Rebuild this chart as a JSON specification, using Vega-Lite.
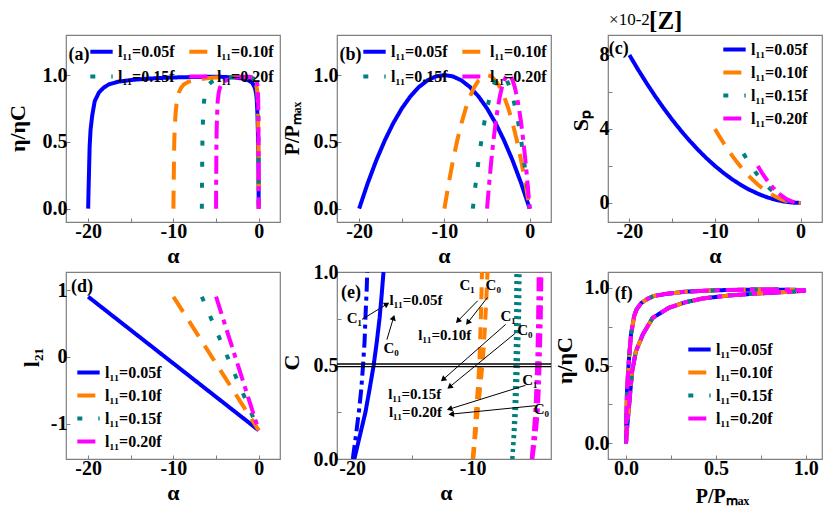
{
"$schema":"https://vega.github.io/schema/vega-lite/v6.json",
"background":"white",
"padding":{"left":5,"top":7,"right":5,"bottom":5},
"bounds":"flush",
"columns":3,
"spacing":{"row":50,"column":57},
"resolve":{"scale":{"color":"independent","strokeDash":"independent"},"legend":{"color":"independent","strokeDash":"independent"}},
"datasets":{
"u":[
{"s":"0.05","a":0,"p":0,"q":0,"l":-1.1},{"s":"0.05","a":-1,"p":0.19,"q":0.02,"l":-1.0},{"s":"0.05","a":-2,"p":0.36,"q":0.08,"l":-0.9},{"s":"0.05","a":-3,"p":0.51,"q":0.18,"l":-0.8},{"s":"0.05","a":-4,"p":0.64,"q":0.32,"l":-0.7},{"s":"0.05","a":-5,"p":0.75,"q":0.5,"l":-0.6},{"s":"0.05","a":-6,"p":0.84,"q":0.72,"l":-0.5},{"s":"0.05","a":-7,"p":0.91,"q":0.98,"l":-0.4},{"s":"0.05","a":-8,"p":0.96,"q":1.28,"l":-0.3},{"s":"0.05","a":-9,"p":0.99,"q":1.62,"l":-0.2},{"s":"0.05","a":-10,"p":1,"q":2,"l":-0.1},{"s":"0.05","a":-11,"p":0.99,"q":2.42,"l":0},{"s":"0.05","a":-12,"p":0.96,"q":2.88,"l":0.1},{"s":"0.05","a":-13,"p":0.91,"q":3.38,"l":0.2},{"s":"0.05","a":-14,"p":0.84,"q":3.92,"l":0.3},{"s":"0.05","a":-15,"p":0.75,"q":4.5,"l":0.4},{"s":"0.05","a":-16,"p":0.64,"q":5.12,"l":0.5},{"s":"0.05","a":-17,"p":0.51,"q":5.78,"l":0.6},{"s":"0.05","a":-18,"p":0.36,"q":6.48,"l":0.7},{"s":"0.05","a":-19,"p":0.19,"q":7.22,"l":0.8},{"s":"0.05","a":-20,"p":0,"q":8,"l":0.9},
{"s":"0.10","a":0,"p":0,"q":0,"l":-1.1},{"s":"0.10","a":-0.5,"p":0.19,"q":0.01,"l":-1.0},{"s":"0.10","a":-1,"p":0.36,"q":0.04,"l":-0.9},{"s":"0.10","a":-1.5,"p":0.51,"q":0.09,"l":-0.8},{"s":"0.10","a":-2,"p":0.64,"q":0.16,"l":-0.7},{"s":"0.10","a":-2.5,"p":0.75,"q":0.25,"l":-0.6},{"s":"0.10","a":-3,"p":0.84,"q":0.36,"l":-0.5},{"s":"0.10","a":-3.5,"p":0.91,"q":0.49,"l":-0.4},{"s":"0.10","a":-4,"p":0.96,"q":0.64,"l":-0.3},{"s":"0.10","a":-4.5,"p":0.99,"q":0.81,"l":-0.2},{"s":"0.10","a":-5,"p":1,"q":1,"l":-0.1},{"s":"0.10","a":-5.5,"p":0.99,"q":1.21,"l":0},{"s":"0.10","a":-6,"p":0.96,"q":1.44,"l":0.1},{"s":"0.10","a":-6.5,"p":0.91,"q":1.69,"l":0.2},{"s":"0.10","a":-7,"p":0.84,"q":1.96,"l":0.3},{"s":"0.10","a":-7.5,"p":0.75,"q":2.25,"l":0.4},{"s":"0.10","a":-8,"p":0.64,"q":2.56,"l":0.5},{"s":"0.10","a":-8.5,"p":0.51,"q":2.89,"l":0.6},{"s":"0.10","a":-9,"p":0.36,"q":3.24,"l":0.7},{"s":"0.10","a":-9.5,"p":0.19,"q":3.61,"l":0.8},{"s":"0.10","a":-10,"p":0,"q":4,"l":0.9},
{"s":"0.15","a":0,"p":0,"q":0,"l":-1.1},{"s":"0.15","a":-0.333,"p":0.19,"q":0.0067,"l":-1.0},{"s":"0.15","a":-0.667,"p":0.36,"q":0.0267,"l":-0.9},{"s":"0.15","a":-1,"p":0.51,"q":0.06,"l":-0.8},{"s":"0.15","a":-1.333,"p":0.64,"q":0.1067,"l":-0.7},{"s":"0.15","a":-1.667,"p":0.75,"q":0.1667,"l":-0.6},{"s":"0.15","a":-2,"p":0.84,"q":0.24,"l":-0.5},{"s":"0.15","a":-2.333,"p":0.91,"q":0.3267,"l":-0.4},{"s":"0.15","a":-2.667,"p":0.96,"q":0.4267,"l":-0.3},{"s":"0.15","a":-3,"p":0.99,"q":0.54,"l":-0.2},{"s":"0.15","a":-3.333,"p":1,"q":0.6667,"l":-0.1},{"s":"0.15","a":-3.667,"p":0.99,"q":0.8067,"l":0},{"s":"0.15","a":-4,"p":0.96,"q":0.96,"l":0.1},{"s":"0.15","a":-4.333,"p":0.91,"q":1.1267,"l":0.2},{"s":"0.15","a":-4.667,"p":0.84,"q":1.3067,"l":0.3},{"s":"0.15","a":-5,"p":0.75,"q":1.5,"l":0.4},{"s":"0.15","a":-5.333,"p":0.64,"q":1.7067,"l":0.5},{"s":"0.15","a":-5.667,"p":0.51,"q":1.9267,"l":0.6},{"s":"0.15","a":-6,"p":0.36,"q":2.16,"l":0.7},{"s":"0.15","a":-6.333,"p":0.19,"q":2.4067,"l":0.8},{"s":"0.15","a":-6.667,"p":0,"q":2.6667,"l":0.9},
{"s":"0.20","a":0,"p":0,"q":0,"l":-1.1},{"s":"0.20","a":-0.25,"p":0.19,"q":0.005,"l":-1.0},{"s":"0.20","a":-0.5,"p":0.36,"q":0.02,"l":-0.9},{"s":"0.20","a":-0.75,"p":0.51,"q":0.045,"l":-0.8},{"s":"0.20","a":-1,"p":0.64,"q":0.08,"l":-0.7},{"s":"0.20","a":-1.25,"p":0.75,"q":0.125,"l":-0.6},{"s":"0.20","a":-1.5,"p":0.84,"q":0.18,"l":-0.5},{"s":"0.20","a":-1.75,"p":0.91,"q":0.245,"l":-0.4},{"s":"0.20","a":-2,"p":0.96,"q":0.32,"l":-0.3},{"s":"0.20","a":-2.25,"p":0.99,"q":0.405,"l":-0.2},{"s":"0.20","a":-2.5,"p":1,"q":0.5,"l":-0.1},{"s":"0.20","a":-2.75,"p":0.99,"q":0.605,"l":0},{"s":"0.20","a":-3,"p":0.96,"q":0.72,"l":0.1},{"s":"0.20","a":-3.25,"p":0.91,"q":0.845,"l":0.2},{"s":"0.20","a":-3.5,"p":0.84,"q":0.98,"l":0.3},{"s":"0.20","a":-3.75,"p":0.75,"q":1.125,"l":0.4},{"s":"0.20","a":-4,"p":0.64,"q":1.28,"l":0.5},{"s":"0.20","a":-4.25,"p":0.51,"q":1.445,"l":0.6},{"s":"0.20","a":-4.5,"p":0.36,"q":1.62,"l":0.7},{"s":"0.20","a":-4.75,"p":0.19,"q":1.805,"l":0.8},{"s":"0.20","a":-5,"p":0,"q":2,"l":0.9}
],
"e":[
{"s":"0.05","a":-20,"e":0,"p":0},{"s":"0.05","a":-19.97,"e":0.1,"p":0.006},{"s":"0.05","a":-19.93,"e":0.2,"p":0.014},{"s":"0.05","a":-19.9,"e":0.28,"p":0.02},{"s":"0.05","a":-19.83,"e":0.46,"p":0.034},{"s":"0.05","a":-19.72,"e":0.59,"p":0.055},{"s":"0.05","a":-19.52,"e":0.7,"p":0.094},{"s":"0.05","a":-19.23,"e":0.805,"p":0.148},{"s":"0.05","a":-18.73,"e":0.87,"p":0.238},{"s":"0.05","a":-18.2,"e":0.905,"p":0.328},{"s":"0.05","a":-17.58,"e":0.93,"p":0.425},{"s":"0.05","a":-16.5,"e":0.95,"p":0.578},{"s":"0.05","a":-15,"e":0.963,"p":0.75},{"s":"0.05","a":-13,"e":0.973,"p":0.91},{"s":"0.05","a":-11,"e":0.98,"p":0.99},{"s":"0.05","a":-10,"e":0.982,"p":1},{"s":"0.05","a":-8,"e":0.985,"p":0.96},{"s":"0.05","a":-6,"e":0.987,"p":0.84},{"s":"0.05","a":-4.5,"e":0.987,"p":0.698},{"s":"0.05","a":-3,"e":0.983,"p":0.51},{"s":"0.05","a":-1.82,"e":0.974,"p":0.331},{"s":"0.05","a":-1.2,"e":0.96,"p":0.226},{"s":"0.05","a":-0.8,"e":0.946,"p":0.154},{"s":"0.05","a":-0.6,"e":0.925,"p":0.116},{"s":"0.05","a":-0.43,"e":0.9,"p":0.084},{"s":"0.05","a":-0.3,"e":0.86,"p":0.059},{"s":"0.05","a":-0.23,"e":0.82,"p":0.046},{"s":"0.05","a":-0.14,"e":0.7,"p":0.028},{"s":"0.05","a":-0.075,"e":0.52,"p":0.015},{"s":"0.05","a":-0.0275,"e":0.33,"p":0.0055},{"s":"0.05","a":-0.01,"e":0.15,"p":0.002},{"s":"0.05","a":0,"e":0,"p":0},
{"s":"0.10","a":-10,"e":0,"p":0},{"s":"0.10","a":-9.985,"e":0.1,"p":0.006},{"s":"0.10","a":-9.965,"e":0.2,"p":0.014},{"s":"0.10","a":-9.95,"e":0.28,"p":0.02},{"s":"0.10","a":-9.915,"e":0.46,"p":0.034},{"s":"0.10","a":-9.86,"e":0.59,"p":0.055},{"s":"0.10","a":-9.76,"e":0.7,"p":0.094},{"s":"0.10","a":-9.615,"e":0.805,"p":0.148},{"s":"0.10","a":-9.365,"e":0.87,"p":0.238},{"s":"0.10","a":-9.1,"e":0.905,"p":0.328},{"s":"0.10","a":-8.79,"e":0.93,"p":0.425},{"s":"0.10","a":-8.25,"e":0.95,"p":0.578},{"s":"0.10","a":-7.5,"e":0.963,"p":0.75},{"s":"0.10","a":-6.5,"e":0.973,"p":0.91},{"s":"0.10","a":-5.5,"e":0.98,"p":0.99},{"s":"0.10","a":-5,"e":0.982,"p":1},{"s":"0.10","a":-4,"e":0.985,"p":0.96},{"s":"0.10","a":-3,"e":0.987,"p":0.84},{"s":"0.10","a":-2.25,"e":0.987,"p":0.698},{"s":"0.10","a":-1.5,"e":0.983,"p":0.51},{"s":"0.10","a":-0.91,"e":0.974,"p":0.331},{"s":"0.10","a":-0.6,"e":0.96,"p":0.226},{"s":"0.10","a":-0.4,"e":0.946,"p":0.154},{"s":"0.10","a":-0.3,"e":0.925,"p":0.116},{"s":"0.10","a":-0.215,"e":0.9,"p":0.084},{"s":"0.10","a":-0.15,"e":0.86,"p":0.059},{"s":"0.10","a":-0.115,"e":0.82,"p":0.046},{"s":"0.10","a":-0.07,"e":0.7,"p":0.028},{"s":"0.10","a":-0.0375,"e":0.52,"p":0.015},{"s":"0.10","a":-0.01375,"e":0.33,"p":0.0055},{"s":"0.10","a":-0.005,"e":0.15,"p":0.002},{"s":"0.10","a":0,"e":0,"p":0},
{"s":"0.15","a":-6.667,"e":0,"p":0},{"s":"0.15","a":-6.657,"e":0.1,"p":0.006},{"s":"0.15","a":-6.643,"e":0.2,"p":0.014},{"s":"0.15","a":-6.633,"e":0.28,"p":0.02},{"s":"0.15","a":-6.61,"e":0.46,"p":0.034},{"s":"0.15","a":-6.573,"e":0.59,"p":0.055},{"s":"0.15","a":-6.507,"e":0.7,"p":0.094},{"s":"0.15","a":-6.41,"e":0.805,"p":0.148},{"s":"0.15","a":-6.243,"e":0.87,"p":0.238},{"s":"0.15","a":-6.067,"e":0.905,"p":0.328},{"s":"0.15","a":-5.86,"e":0.93,"p":0.425},{"s":"0.15","a":-5.5,"e":0.95,"p":0.578},{"s":"0.15","a":-5,"e":0.963,"p":0.75},{"s":"0.15","a":-4.333,"e":0.973,"p":0.91},{"s":"0.15","a":-3.667,"e":0.98,"p":0.99},{"s":"0.15","a":-3.333,"e":0.982,"p":1},{"s":"0.15","a":-2.667,"e":0.985,"p":0.96},{"s":"0.15","a":-2,"e":0.987,"p":0.84},{"s":"0.15","a":-1.5,"e":0.987,"p":0.698},{"s":"0.15","a":-1,"e":0.983,"p":0.51},{"s":"0.15","a":-0.607,"e":0.974,"p":0.331},{"s":"0.15","a":-0.4,"e":0.96,"p":0.226},{"s":"0.15","a":-0.267,"e":0.946,"p":0.154},{"s":"0.15","a":-0.2,"e":0.925,"p":0.116},{"s":"0.15","a":-0.143,"e":0.9,"p":0.084},{"s":"0.15","a":-0.1,"e":0.86,"p":0.059},{"s":"0.15","a":-0.077,"e":0.82,"p":0.046},{"s":"0.15","a":-0.047,"e":0.7,"p":0.028},{"s":"0.15","a":-0.025,"e":0.52,"p":0.015},{"s":"0.15","a":-0.0092,"e":0.33,"p":0.0055},{"s":"0.15","a":-0.0033,"e":0.15,"p":0.002},{"s":"0.15","a":0,"e":0,"p":0},
{"s":"0.20","a":-5,"e":0,"p":0},{"s":"0.20","a":-4.9925,"e":0.1,"p":0.006},{"s":"0.20","a":-4.9825,"e":0.2,"p":0.014},{"s":"0.20","a":-4.975,"e":0.28,"p":0.02},{"s":"0.20","a":-4.9575,"e":0.46,"p":0.034},{"s":"0.20","a":-4.93,"e":0.59,"p":0.055},{"s":"0.20","a":-4.88,"e":0.7,"p":0.094},{"s":"0.20","a":-4.8075,"e":0.805,"p":0.148},{"s":"0.20","a":-4.6825,"e":0.87,"p":0.238},{"s":"0.20","a":-4.55,"e":0.905,"p":0.328},{"s":"0.20","a":-4.395,"e":0.93,"p":0.425},{"s":"0.20","a":-4.125,"e":0.95,"p":0.578},{"s":"0.20","a":-3.75,"e":0.963,"p":0.75},{"s":"0.20","a":-3.25,"e":0.973,"p":0.91},{"s":"0.20","a":-2.75,"e":0.98,"p":0.99},{"s":"0.20","a":-2.5,"e":0.982,"p":1},{"s":"0.20","a":-2,"e":0.985,"p":0.96},{"s":"0.20","a":-1.5,"e":0.987,"p":0.84},{"s":"0.20","a":-1.125,"e":0.987,"p":0.698},{"s":"0.20","a":-0.75,"e":0.983,"p":0.51},{"s":"0.20","a":-0.455,"e":0.974,"p":0.331},{"s":"0.20","a":-0.3,"e":0.96,"p":0.226},{"s":"0.20","a":-0.2,"e":0.946,"p":0.154},{"s":"0.20","a":-0.15,"e":0.925,"p":0.116},{"s":"0.20","a":-0.1075,"e":0.9,"p":0.084},{"s":"0.20","a":-0.075,"e":0.86,"p":0.059},{"s":"0.20","a":-0.0575,"e":0.82,"p":0.046},{"s":"0.20","a":-0.035,"e":0.7,"p":0.028},{"s":"0.20","a":-0.01875,"e":0.52,"p":0.015},{"s":"0.20","a":-0.006875,"e":0.33,"p":0.0055},{"s":"0.20","a":-0.0025,"e":0.15,"p":0.002},{"s":"0.20","a":0,"e":0,"p":0}
],
"ec":[
{"k":"b0","s":"0.05","a":-19.82,"c":0},{"k":"b0","s":"0.05","a":-19.37,"c":0.123},{"k":"b0","s":"0.05","a":-18.9,"c":0.25},{"k":"b0","s":"0.05","a":-18.55,"c":0.376},{"k":"b0","s":"0.05","a":-18.22,"c":0.5},{"k":"b0","s":"0.05","a":-17.95,"c":0.63},{"k":"b0","s":"0.05","a":-17.72,"c":0.756},{"k":"b0","s":"0.05","a":-17.55,"c":0.88},{"k":"b0","s":"0.05","a":-17.4,"c":1.0},
{"k":"b1","s":"0.05","a":-19.95,"c":0},{"k":"b1","s":"0.05","a":-19.7,"c":0.12},{"k":"b1","s":"0.05","a":-19.45,"c":0.25},{"k":"b1","s":"0.05","a":-19.25,"c":0.37},{"k":"b1","s":"0.05","a":-19.1,"c":0.5},{"k":"b1","s":"0.05","a":-18.97,"c":0.63},{"k":"b1","s":"0.05","a":-18.9,"c":0.756},{"k":"b1","s":"0.05","a":-18.8,"c":0.9},{"k":"b1","s":"0.05","a":-18.75,"c":1.0},
{"k":"o1","s":"0.10","a":-10.0,"c":0},{"k":"o1","s":"0.10","a":-9.85,"c":0.12},{"k":"o1","s":"0.10","a":-9.73,"c":0.25},{"k":"o1","s":"0.10","a":-9.58,"c":0.37},{"k":"o1","s":"0.10","a":-9.45,"c":0.5},{"k":"o1","s":"0.10","a":-9.38,"c":0.63},{"k":"o1","s":"0.10","a":-9.32,"c":0.75},{"k":"o1","s":"0.10","a":-9.27,"c":0.88},{"k":"o1","s":"0.10","a":-9.23,"c":1.0},
{"k":"o0","s":"0.10","a":-9.95,"c":0},{"k":"o0","s":"0.10","a":-9.78,"c":0.12},{"k":"o0","s":"0.10","a":-9.6,"c":0.25},{"k":"o0","s":"0.10","a":-9.4,"c":0.37},{"k":"o0","s":"0.10","a":-9.2,"c":0.5},{"k":"o0","s":"0.10","a":-9.05,"c":0.63},{"k":"o0","s":"0.10","a":-8.95,"c":0.75},{"k":"o0","s":"0.10","a":-8.85,"c":0.88},{"k":"o0","s":"0.10","a":-8.77,"c":1.0},
{"k":"t1","s":"0.15","a":-6.72,"c":0},{"k":"t1","s":"0.15","a":-6.62,"c":0.12},{"k":"t1","s":"0.15","a":-6.55,"c":0.25},{"k":"t1","s":"0.15","a":-6.5,"c":0.37},{"k":"t1","s":"0.15","a":-6.45,"c":0.5},{"k":"t1","s":"0.15","a":-6.42,"c":0.63},{"k":"t1","s":"0.15","a":-6.4,"c":0.75},{"k":"t1","s":"0.15","a":-6.39,"c":0.88},{"k":"t1","s":"0.15","a":-6.38,"c":1.0},
{"k":"t0","s":"0.15","a":-6.7,"c":0},{"k":"t0","s":"0.15","a":-6.55,"c":0.12},{"k":"t0","s":"0.15","a":-6.4,"c":0.25},{"k":"t0","s":"0.15","a":-6.32,"c":0.37},{"k":"t0","s":"0.15","a":-6.25,"c":0.5},{"k":"t0","s":"0.15","a":-6.2,"c":0.63},{"k":"t0","s":"0.15","a":-6.15,"c":0.75},{"k":"t0","s":"0.15","a":-6.12,"c":0.88},{"k":"t0","s":"0.15","a":-6.1,"c":1.0},
{"k":"m1","s":"0.20","a":-5.1,"c":0},{"k":"m1","s":"0.20","a":-4.95,"c":0.12},{"k":"m1","s":"0.20","a":-4.8,"c":0.25},{"k":"m1","s":"0.20","a":-4.72,"c":0.37},{"k":"m1","s":"0.20","a":-4.65,"c":0.5},{"k":"m1","s":"0.20","a":-4.6,"c":0.63},{"k":"m1","s":"0.20","a":-4.57,"c":0.75},{"k":"m1","s":"0.20","a":-4.54,"c":0.88},{"k":"m1","s":"0.20","a":-4.52,"c":1.0},
{"k":"m0","s":"0.20","a":-5.05,"c":0},{"k":"m0","s":"0.20","a":-4.8,"c":0.12},{"k":"m0","s":"0.20","a":-4.6,"c":0.25},{"k":"m0","s":"0.20","a":-4.52,"c":0.37},{"k":"m0","s":"0.20","a":-4.45,"c":0.5},{"k":"m0","s":"0.20","a":-4.4,"c":0.63},{"k":"m0","s":"0.20","a":-4.35,"c":0.75},{"k":"m0","s":"0.20","a":-4.32,"c":0.88},{"k":"m0","s":"0.20","a":-4.3,"c":1.0}
],
"ann":[
{"t":"l₁₁=0.05f","a":-16.9,"c":0.85},{"t":"C₁","a":-20.45,"c":0.756},{"t":"C₀","a":-17.4,"c":0.593},{"t":"C₁","a":-11.1,"c":0.928},{"t":"C₀","a":-8.93,"c":0.928},{"t":"l₁₁=0.10f","a":-14.52,"c":0.665},{"t":"C₁","a":-7.7,"c":0.765},{"t":"C₀","a":-6.3,"c":0.692},{"t":"l₁₁=0.15f","a":-17.0,"c":0.35},{"t":"C₁","a":-5.89,"c":0.421},{"t":"C₀","a":-4.93,"c":0.267},{"t":"l₁₁=0.20f","a":-16.95,"c":0.25}
],
"arr":[
{"a":-19.18,"c":0.747,"a2":-17.12,"c2":0.828},{"a":-17.12,"c":0.638,"a2":-16.57,"c2":0.756},{"a":-9.59,"c":0.846,"a2":-11.23,"c2":0.738},{"a":-8.77,"c":0.864,"a2":-10.41,"c2":0.729},{"a":-7.26,"c":0.72,"a2":-12.46,"c2":0.425},{"a":-6.44,"c":0.674,"a2":-11.92,"c2":0.385},{"a":-5.62,"c":0.394,"a2":-11.92,"c2":0.267},{"a":-4.8,"c":0.285,"a2":-11.78,"c2":0.24}
]
},
"concat":[
{"width":214,"height":187,"layer":[
 {"data":{"name":"e"},"mark":{"type":"line","strokeWidth":4,"clip":true},
  "encoding":{
   "x":{"field":"a","type":"quantitative","scale":{"domain":[-22.6,2.5],"nice":false,"zero":false},"axis":{"title":"α","values":[-20,-15,-10,-5,0],"labelExpr":"datum.value == -20 ? '-20' : datum.value == -10 ? '-10' : datum.value == 0 ? '0' : ''","titleX":107,"titleY":33}},
   "y":{"field":"e","type":"quantitative","scale":{"domain":[-0.1,1.3],"nice":false,"zero":false},"axis":{"title":"η/ηC","values":[0,0.25,0.5,0.75,1,1.25],"labelExpr":"datum.value == 0 ? '0.0' : datum.value == 0.5 ? '0.5' : datum.value == 1 ? '1.0' : ''","titleX":-49,"titleY":93}},
   "color":{"field":"s","type":"nominal","scale":{"domain":["0.05","0.10","0.15","0.20"],"range":["#0000ff","#ff7f00","#008080","#ff00ff"]},"legend":{"title":null,"legendX":22,"legendY":3,"columns":2,"direction":"horizontal","rowPadding":3,"labelExpr":"'l₁₁=' + datum.label + 'f'"}},
   "strokeDash":{"field":"s","type":"nominal","scale":{"domain":["0.05","0.10","0.15","0.20"],"range":[[1,0],[18,11],[5,16],[18,6,5,6]]},"legend":{"title":null,"legendX":22,"legendY":3,"columns":2,"direction":"horizontal","rowPadding":3,"labelExpr":"'l₁₁=' + datum.label + 'f'"}}
  }},
 {"data":{"values":[{"t":"(a)","a":-22.3,"e":1.153}]},"mark":{"type":"text","align":"left","baseline":"middle","fontSize":18,"fontWeight":"bold"},"encoding":{"x":{"field":"a","type":"quantitative"},"y":{"field":"e","type":"quantitative"},"text":{"field":"t"}}}
]},
{"width":214,"height":187,"layer":[
 {"data":{"name":"u"},"mark":{"type":"line","strokeWidth":4,"clip":true},
  "encoding":{
   "x":{"field":"a","type":"quantitative","scale":{"domain":[-22.6,2.5],"nice":false,"zero":false},"axis":{"title":"α","values":[-20,-15,-10,-5,0],"labelExpr":"datum.value == -20 ? '-20' : datum.value == -10 ? '-10' : datum.value == 0 ? '0' : ''","titleX":107,"titleY":33}},
   "y":{"field":"p","type":"quantitative","scale":{"domain":[-0.1,1.3],"nice":false,"zero":false},"axis":{"title":"P/Pₘₐₓ","titleFontSize":20,"values":[0,0.25,0.5,0.75,1,1.25],"labelExpr":"datum.value == 0 ? '0.0' : datum.value == 0.5 ? '0.5' : datum.value == 1 ? '1.0' : ''","titleX":-45,"titleY":93}},
   "color":{"field":"s","type":"nominal","scale":{"domain":["0.05","0.10","0.15","0.20"],"range":["#0000ff","#ff7f00","#008080","#ff00ff"]},"legend":{"title":null,"legendX":24,"legendY":3,"columns":2,"direction":"horizontal","rowPadding":3,"labelExpr":"'l₁₁=' + datum.label + 'f'"}},
   "strokeDash":{"field":"s","type":"nominal","scale":{"domain":["0.05","0.10","0.15","0.20"],"range":[[1,0],[18,11],[5,16],[18,6,5,6]]},"legend":{"title":null,"legendX":24,"legendY":3,"columns":2,"direction":"horizontal","rowPadding":3,"labelExpr":"'l₁₁=' + datum.label + 'f'"}}
  }},
 {"data":{"values":[{"t":"(b)","a":-22.3,"p":1.153}]},"mark":{"type":"text","align":"left","baseline":"middle","fontSize":18,"fontWeight":"bold"},"encoding":{"x":{"field":"a","type":"quantitative"},"y":{"field":"p","type":"quantitative"},"text":{"field":"t"}}}
]},
{"width":214,"height":187,"layer":[
 {"data":{"name":"u"},"mark":{"type":"line","strokeWidth":4,"clip":true},
  "encoding":{
   "x":{"field":"a","type":"quantitative","scale":{"domain":[-22.5,2.5],"nice":false,"zero":false},"axis":{"title":"α","values":[-20,-15,-10,-5,0],"labelExpr":"datum.value == -20 ? '-20' : datum.value == -10 ? '-10' : datum.value == 0 ? '0' : ''","titleX":107,"titleY":33}},
   "y":{"field":"q","type":"quantitative","scale":{"domain":[-1.03,9.08],"nice":false,"zero":false},"axis":{"title":"Sₚ","values":[0,2,4,6,8],"labelExpr":"datum.value == 0 ? '0' : datum.value == 4 ? '4' : datum.value == 8 ? '8' : ''","titleX":-28,"titleY":85}},
   "color":{"field":"s","type":"nominal","scale":{"domain":["0.05","0.10","0.15","0.20"],"range":["#0000ff","#ff7f00","#008080","#ff00ff"]},"legend":{"title":null,"legendX":113,"legendY":1,"columns":1,"rowPadding":1,"labelExpr":"'l₁₁=' + datum.label + 'f'"}},
   "strokeDash":{"field":"s","type":"nominal","scale":{"domain":["0.05","0.10","0.15","0.20"],"range":[[1,0],[18,11],[5,16],[18,6,5,6]]},"legend":{"title":null,"legendX":113,"legendY":1,"columns":1,"rowPadding":1,"labelExpr":"'l₁₁=' + datum.label + 'f'"}}
  }},
 {"data":{"values":[{"t":"(c)","a":-22.4,"q":8.34}]},"mark":{"type":"text","align":"left","baseline":"middle","fontSize":18,"fontWeight":"bold"},"encoding":{"x":{"field":"a","type":"quantitative"},"y":{"field":"q","type":"quantitative"},"text":{"field":"t"}}},
 {"data":{"values":[{"t":"×10-2","a":-22.37,"q":9.91}]},"mark":{"type":"text","align":"left","baseline":"middle","fontSize":17},"encoding":{"x":{"field":"a","type":"quantitative"},"y":{"field":"q","type":"quantitative"},"text":{"field":"t"}}},
 {"data":{"values":[{"t":"[Z]","a":-17.7,"q":9.86}]},"mark":{"type":"text","align":"left","baseline":"middle","fontSize":25,"fontWeight":"bold"},"encoding":{"x":{"field":"a","type":"quantitative"},"y":{"field":"q","type":"quantitative"},"text":{"field":"t"}}}
]},
{"width":214,"height":187,"layer":[
 {"data":{"name":"u"},"mark":{"type":"line","strokeWidth":4,"clip":true},
  "encoding":{
   "x":{"field":"a","type":"quantitative","scale":{"domain":[-22.6,2.5],"nice":false,"zero":false},"axis":{"title":"α","values":[-20,-15,-10,-5,0],"labelExpr":"datum.value == -20 ? '-20' : datum.value == -10 ? '-10' : datum.value == 0 ? '0' : ''","titleX":107,"titleY":33}},
   "y":{"field":"l","type":"quantitative","scale":{"domain":[-1.53,1.27],"nice":false,"zero":false},"axis":{"title":"l₂₁","values":[-1,0,1],"format":"d","titleX":-35,"titleY":85}},
   "color":{"field":"s","type":"nominal","scale":{"domain":["0.05","0.10","0.15","0.20"],"range":["#0000ff","#ff7f00","#008080","#ff00ff"]},"legend":{"title":null,"legendX":9,"legendY":87,"columns":1,"rowPadding":1,"labelExpr":"'l₁₁=' + datum.label + 'f'"}},
   "strokeDash":{"field":"s","type":"nominal","scale":{"domain":["0.05","0.10","0.15","0.20"],"range":[[1,0],[18,11],[5,16],[18,6,5,6]]},"legend":{"title":null,"legendX":9,"legendY":87,"columns":1,"rowPadding":1,"labelExpr":"'l₁₁=' + datum.label + 'f'"}}
  }},
 {"data":{"values":[{"t":"(d)","a":-22.0,"l":1.047}]},"mark":{"type":"text","align":"left","baseline":"middle","fontSize":18,"fontWeight":"bold"},"encoding":{"x":{"field":"a","type":"quantitative"},"y":{"field":"l","type":"quantitative"},"text":{"field":"t"}}}
]},
{"width":214,"height":187,"layer":[
 {"data":{"name":"ec"},"mark":{"type":"line","strokeWidth":4,"clip":true},
  "encoding":{
   "x":{"field":"a","type":"quantitative","scale":{"domain":[-21.26,-3.5],"nice":false,"zero":false},"axis":{"title":"α","values":[-20,-15,-10,-5],"labelExpr":"datum.value == -20 ? '-20' : datum.value == -10 ? '-10' : ''","titleX":109,"titleY":33}},
   "y":{"field":"c","type":"quantitative","scale":{"domain":[0,1],"nice":false,"zero":false},"axis":{"title":"C","values":[0,0.25,0.5,0.75,1],"labelExpr":"datum.value == 0 ? '0.0' : datum.value == 0.5 ? '0.5' : datum.value == 1 ? '1.0' : ''","titleX":-46,"titleY":90}},
   "color":{"field":"s","type":"nominal","scale":{"domain":["0.05","0.10","0.15","0.20"],"range":["#0000ff","#ff7f00","#008080","#ff00ff"]},"legend":null},
   "strokeDash":{"field":"k","type":"nominal","scale":{"domain":["b0","b1","o0","o1","t0","t1","m0","m1"],"range":[[1,0],[14,5,4,5],[12,8],[12,8],[3,4],[3,4],[14,5,4,5],[14,5,4,5]]},"legend":null}
  }},
 {"data":{"values":[{"c":0.494},{"c":0.508}]},"mark":{"type":"rule","color":"black","strokeWidth":1.3},"encoding":{"y":{"field":"c","type":"quantitative"}}},
 {"data":{"name":"arr"},"mark":{"type":"rule","color":"black","strokeWidth":1},"encoding":{"x":{"field":"a","type":"quantitative"},"y":{"field":"c","type":"quantitative"},"x2":{"field":"a2"},"y2":{"field":"c2"}}},
 {"data":{"name":"arr"},"transform":[{"calculate":"atan2(-(datum.c2-datum.c)*184.3,(datum.a2-datum.a)*12.17)*180/PI","as":"ang"}],"mark":{"type":"point","shape":"triangle-right","filled":true,"color":"black","size":40,"opacity":1},"encoding":{"x":{"field":"a2","type":"quantitative"},"y":{"field":"c2","type":"quantitative"},"angle":{"field":"ang","type":"quantitative","scale":null}}},
 {"data":{"name":"ann"},"mark":{"type":"text","align":"left","baseline":"middle","fontSize":15,"fontWeight":"bold"},"encoding":{"x":{"field":"a","type":"quantitative"},"y":{"field":"c","type":"quantitative"},"text":{"field":"t"}}},
 {"data":{"values":[{"t":"(e)","a":-20.93,"c":0.89}]},"mark":{"type":"text","align":"left","baseline":"middle","fontSize":18,"fontWeight":"bold"},"encoding":{"x":{"field":"a","type":"quantitative"},"y":{"field":"c","type":"quantitative"},"text":{"field":"t"}}}
]},
{"width":214,"height":187,"layer":[
 {"data":{"name":"e"},"mark":{"type":"line","strokeWidth":4,"clip":true},
  "encoding":{
   "x":{"field":"p","type":"quantitative","scale":{"domain":[-0.1,1.09],"nice":false,"zero":false},"axis":{"title":"P/Pₘₐₓ","titleFontSize":20,"values":[0,0.25,0.5,0.75,1],"labelExpr":"datum.value == 0 ? '0.0' : datum.value == 0.5 ? '0.5' : datum.value == 1 ? '1.0' : ''","titleX":114,"titleY":37}},
   "y":{"field":"e","type":"quantitative","scale":{"domain":[-0.1,1.1],"nice":false,"zero":false},"axis":{"title":"η/ηC","values":[0,0.25,0.5,0.75,1],"labelExpr":"datum.value == 0 ? '0.0' : datum.value == 0.5 ? '0.5' : datum.value == 1 ? '1.0' : ''","titleX":-44,"titleY":88}},
   "order":{"field":"a","type":"quantitative"},
   "color":{"field":"s","type":"nominal","scale":{"domain":["0.05","0.10","0.15","0.20"],"range":["#0000ff","#ff7f00","#008080","#ff00ff"]},"legend":{"title":null,"legendX":78,"legendY":64,"columns":1,"rowPadding":1,"labelExpr":"'l₁₁=' + datum.label + 'f'"}},
   "strokeDash":{"field":"s","type":"nominal","scale":{"domain":["0.05","0.10","0.15","0.20"],"range":[[1,0],[18,11],[5,16],[18,6,5,6]]},"legend":{"title":null,"legendX":78,"legendY":64,"columns":1,"rowPadding":1,"labelExpr":"'l₁₁=' + datum.label + 'f'"}}
  }},
 {"data":{"values":[{"t":"(f)","p":-0.063,"e":0.962}]},"mark":{"type":"text","align":"left","baseline":"middle","fontSize":18,"fontWeight":"bold"},"encoding":{"x":{"field":"p","type":"quantitative"},"y":{"field":"e","type":"quantitative"},"text":{"field":"t"}}}
]}
],
"config":{
 "font":"Liberation Serif",
 "locale":{"number":{"decimal":".","thousands":",","grouping":[3],"currency":["$",""],"minus":"-"}},
 "view":{"stroke":"#7f7f7f","strokeWidth":1.2},
 "axis":{"domain":false,"grid":false,"labelFont":"Liberation Serif","labelFontWeight":"bold","labelFontSize":20,"labelColor":"#000000","titleFont":"Liberation Serif","titleFontWeight":"bold","titleFontSize":22,"titleColor":"#000000","tickColor":"#7f7f7f","tickSize":-4,"tickWidth":1,"labelPadding":3,"labelFlush":false,"labelOverlap":false,"titleBaseline":"middle"},
 "legend":{"orient":"none","symbolType":"stroke","symbolSize":500,"symbolStrokeWidth":4,"labelFont":"Liberation Serif","labelFontWeight":"bold","labelFontSize":16,"labelColor":"#000000","rowPadding":3,"columnPadding":6,"labelOffset":3,"padding":0,"labelLimit":200},
 "text":{"font":"Liberation Serif","color":"#000000"}
}
}
